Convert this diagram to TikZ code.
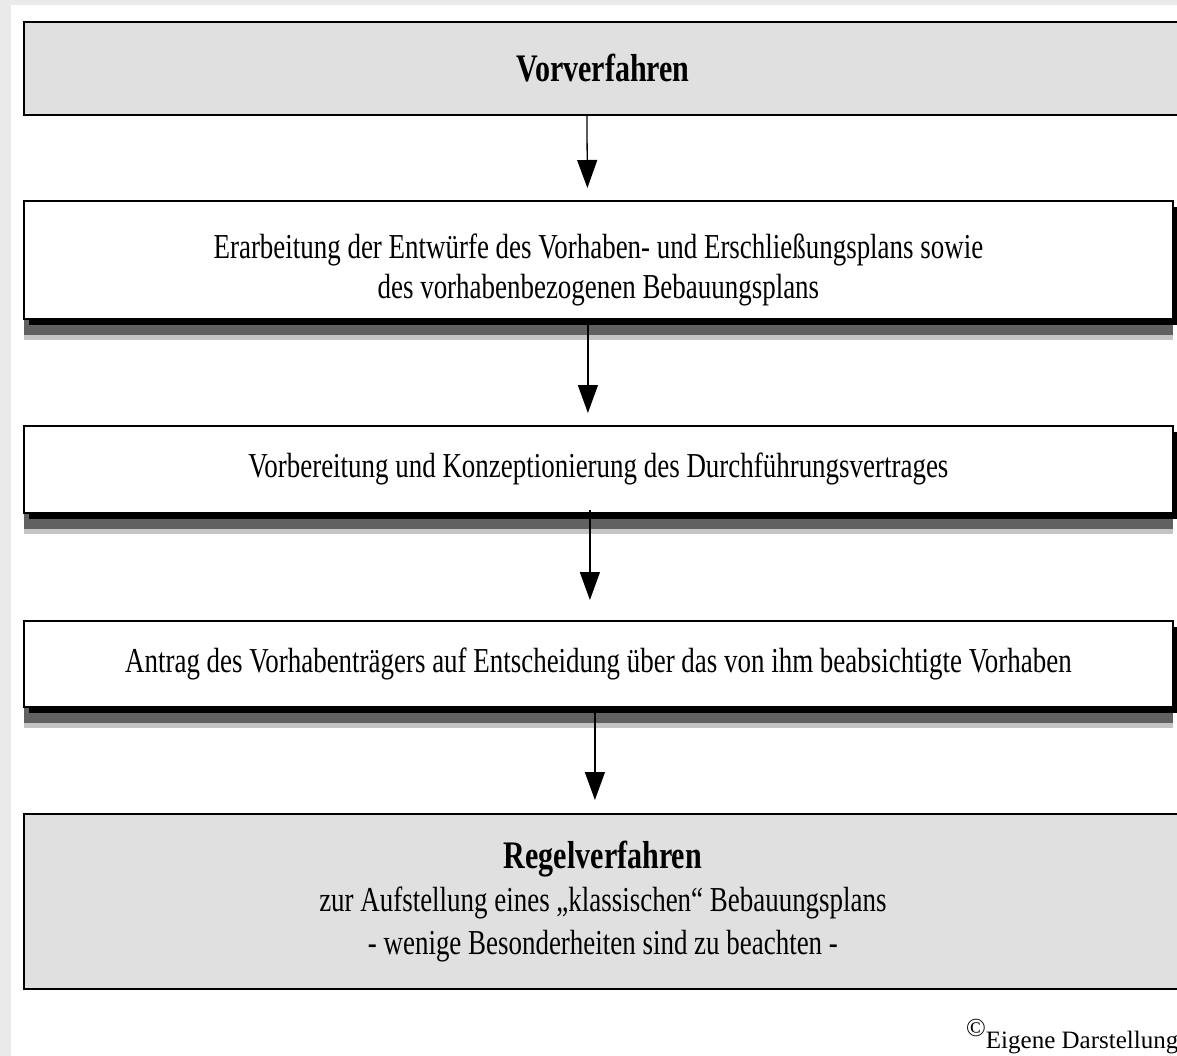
\documentclass[tikz,border=0pt]{standalone}
\usepackage{fontspec}
\setmainfont{Liberation Serif}[FakeStretch=0.77]
\newfontfamily\notefont{Liberation Serif}
\usetikzlibrary{arrows.meta,positioning,shadows}
\definecolor{pagegray}{HTML}{EAEAEA}
\definecolor{boxgray}{HTML}{E0E0E0}
\definecolor{shadedark}{HTML}{616161}
\definecolor{shadelight}{HTML}{C4C4C4}

\begin{document}
\begin{tikzpicture}[
  x=1pt, y=-1pt,
  headbox/.style={draw, line width=1.8pt, fill=boxgray, align=center, anchor=north west, inner sep=0pt, minimum width=1158pt, font=\fontsize{39}{44}\selectfont\bfseries},
  flowbox/.style={draw, line width=1.8pt, fill=white, align=center, anchor=north west, inner sep=0pt, minimum width=1149pt, font=\fontsize{35}{40}\selectfont,
    general shadow={fill=shadelight, shadow yshift=-21pt},
    general shadow={fill=shadedark, shadow yshift=-16pt},
    general shadow={fill=black, shadow xshift=5pt, shadow yshift=-6pt}},
  arr/.style={-{Triangle[width=20pt,length=28pt]}, line width=1.3pt}
]
  \useasboundingbox (0,0) rectangle (1177,1056);
  \clip (0,0) rectangle (1177,1056);
  \fill[pagegray] (0,0) rectangle (1177,1056);
  \fill[white] (11,5) rectangle (1177,1056);

  \node[headbox, minimum height=93pt] (vor) at (23,21) {Vorverfahren};
  \node[flowbox, minimum height=118pt] (erarb) at (23,200) {\rule{0pt}{45pt}Erarbeitung der Entwürfe des Vorhaben- und Erschließungsplans sowie\\des vorhabenbezogenen Bebauungsplans};
  \node[flowbox, minimum height=87pt] (vorb) at (23,425) {Vorbereitung und Konzeptionierung des Durchführungsvertrages};
  \node[flowbox, minimum height=86pt] (antrag) at (23,620) {Antrag des Vorhabenträgers auf Entscheidung über das von ihm beabsichtigte Vorhaben};
  \node[headbox, minimum height=175pt, font=\fontsize{35}{43}\selectfont] (regel) at (23,813) {{\fontsize{39}{44}\selectfont\bfseries Regelverfahren}\\zur Aufstellung eines „klassischen“ Bebauungsplans\\- wenige Besonderheiten sind zu beachten -};

  \node[anchor=base west, inner sep=0pt, font=\notefont\fontsize{25}{30}\selectfont] (note) at (966,1048) {\raisebox{12pt}{\fontsize{26}{30}\selectfont ©}Eigene Darstellung};

  \draw[arr] ([xshift=-16pt]vor.south) -- ([xshift=-11pt,yshift=12pt]erarb.north);
  \draw[arr] ([xshift=-10.5pt]erarb.south) -- ([xshift=-10.5pt,yshift=12pt]vorb.north);
  \draw[arr] ([xshift=-8.5pt,yshift=4pt]vorb.south) -- ([xshift=-8.5pt,yshift=20pt]antrag.north);
  \draw[arr] ([xshift=-3.5pt]antrag.south) -- ([xshift=-8pt,yshift=13pt]regel.north);
\end{tikzpicture}
\end{document}
